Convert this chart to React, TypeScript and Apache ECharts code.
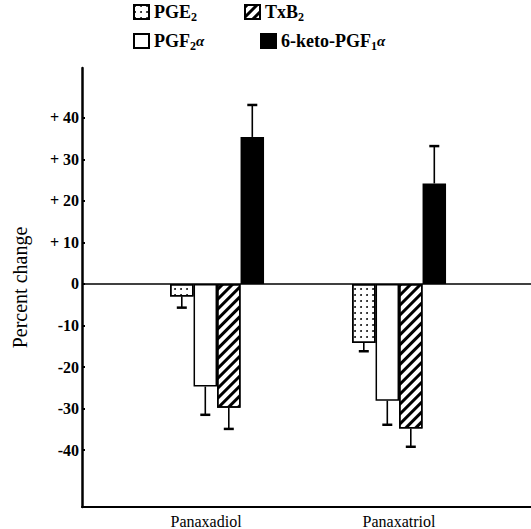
import React, { useEffect, useRef } from "react";
import * as echarts from "echarts";

const categories = ["Panaxadiol", "Panaxatriol"];
const seriesNames = ["PGE2", "PGF2α", "TxB2", "6-keto-PGF1α"];
const pge2 = [-3.0, -14.2];
const pge2Err = [2.7, 2.0];
const pgf2a = [-24.7, -28.1];
const pgf2aErr = [6.8, 5.8];
const txb2 = [-29.8, -34.8];
const txb2Err = [5.1, 4.4];
const keto = [35.4, 24.2];
const ketoErr = [7.7, 9.0];
const yTicks = [-40, -30, -20, -10, 0, 10, 20, 30, 40];

const FONT = "Liberation Serif";
const BAR_W = 23.5;

const values = [pge2, pgf2a, txb2, keto];
const errors = [pge2Err, pgf2aErr, txb2Err, ketoErr];

const richLegend = {
  b: { fontFamily: FONT, fontSize: 18, fontWeight: "bold", color: "#000", lineHeight: 22 },
  s: { fontFamily: FONT, fontSize: 12, fontWeight: "bold", color: "#000", lineHeight: 22, verticalAlign: "bottom" },
  g: { fontFamily: FONT, fontSize: 15, fontStyle: "italic", fontWeight: "bold", color: "#000", lineHeight: 22 },
};

const legendLabel: Record<string, string> = {
  "PGE2": "{b|PGE}{s|2}",
  "PGF2α": "{b|PGF}{s|2}{g|α}",
  "TxB2": "{b|TxB}{s|2}",
  "6-keto-PGF1α": "{b|6-keto-PGF}{s|1}{g|α}",
};

const dotDecal = {
  symbol: "circle",
  symbolSize: 0.9,
  color: "#000",
  dashArrayX: [2, 3.5],
  dashArrayY: [2, 3.5],
  rotation: 0,
};
const hatchDecal = {
  symbol: "rect",
  symbolSize: 1,
  color: "#000",
  dashArrayX: [1, 0],
  dashArrayY: [2.2, 4],
  rotation: -Math.PI / 4,
};

export default function App() {
  const ref = useRef<HTMLDivElement>(null);
  useEffect(() => {
    if (!ref.current) return;
    const chart = echarts.init(ref.current, null, { renderer: "svg" });

    const fills = ["#fff", "#fff", "#fff", "#000"];
    const decals: any[] = [dotDecal, null, hatchDecal, null];

    const barSeries = seriesNames.map((name, i) => ({
      name,
      type: "bar",
      barWidth: BAR_W,
      barGap: "0%",
      data: categories.map((_, c) => [c, values[i][c]]),
      itemStyle: {
        color: fills[i],
        borderColor: "#000",
        borderWidth: 1.5,
        ...(decals[i] ? { decal: decals[i] } : {}),
      },
      z: 2,
      ...(i === 0
        ? {
            markLine: {
              silent: true,
              symbol: ["none", "none"],
              label: { show: false },
              lineStyle: { color: "#000", width: 1.5, type: "solid" },
              data: [{ yAxis: 0 }],
              z: 1,
            },
          }
        : {}),
    }));

    const errSeries = {
      type: "custom",
      name: "err",
      z: 5,
      data: seriesNames.flatMap((_, i) =>
        categories.map((_, c) => [c, values[i][c], errors[i][c], i])
      ),
      encode: { x: 0, y: 1 },
      renderItem: (params: any, api: any) => {
        const x = api.value(0);
        const y = api.value(1);
        const e = api.value(2);
        const idx = api.value(3);
        const end = y + (y >= 0 ? e : -e);
        const p0 = api.coord([x, y]);
        const p1 = api.coord([x, end]);
        const off = (idx - 1.5) * BAR_W;
        const cx = p0[0] + off;
        return {
          type: "group",
          children: [
            {
              type: "line",
              shape: { x1: cx, y1: p0[1], x2: cx, y2: p1[1] },
              style: { stroke: "#000", lineWidth: 1.6 },
            },
            {
              type: "line",
              shape: { x1: cx - 5, y1: p1[1], x2: cx + 5, y2: p1[1] },
              style: { stroke: "#000", lineWidth: 2.5 },
            },
          ],
        };
      },
    };

    const legendPos = [
      { left: 133, top: 3 },
      { left: 133, top: 32 },
      { left: 244, top: 3 },
      { left: 260, top: 32 },
    ];

    chart.setOption({
      animation: false,
      backgroundColor: "#fff",
      legend: seriesNames.map((name, i) => ({
        data: [name],
        left: legendPos[i].left,
        top: legendPos[i].top,
        padding: 0,
        itemWidth: 15,
        itemHeight: 14,
        selectedMode: false,
        icon: "rect",
        formatter: (n: string) => legendLabel[n],
        textStyle: { rich: richLegend, fontFamily: FONT, fontSize: 18, color: "#000" },
      })),
      grid: { left: 82, right: 0, top: 68, bottom: 17, containLabel: false },
      xAxis: {
        type: "value",
        min: -0.742,
        max: 1.725,
        axisLine: { show: true, onZero: false, lineStyle: { color: "#000", width: 2 } },
        axisTick: { show: false },
        splitLine: { show: false },
        axisLabel: {
          customValues: [0, 1],
          formatter: (v: number) => (Math.round(v) === 0 ? "{l|" + categories[0] + "}" : "{r|" + categories[1] + "}"),
          fontFamily: FONT,
          fontSize: 16,
          color: "#000",
          margin: 6,
          rich: {
            l: { fontFamily: FONT, fontSize: 16, color: "#000", padding: [0, 22, 0, 0] },
            r: { fontFamily: FONT, fontSize: 16, color: "#000" },
          },
        },
      },
      yAxis: {
        type: "value",
        min: -53.7,
        max: 52,
        name: "Percent change",
        nameLocation: "middle",
        nameRotate: 90,
        nameGap: 52,
        nameTextStyle: { fontFamily: FONT, fontSize: 20, color: "#000" },
        axisLine: { show: true, onZero: false, lineStyle: { color: "#000", width: 2.5 } },
        axisTick: { show: true, inside: true, length: 3, customValues: yTicks, lineStyle: { color: "#000", width: 2 } },
        splitLine: { show: false },
        axisLabel: {
          customValues: yTicks,
          formatter: (v: number) => (v > 0 ? "+ " + v : String(v)),
          fontFamily: FONT,
          fontSize: 16,
          fontWeight: "bold",
          color: "#000",
          margin: 3,
        },
      },
      series: [...barSeries, errSeries],
    });

    return () => chart.dispose();
  }, []);

  return <div ref={ref} style={{ width: 531, height: 529, position: "absolute", left: 0, top: 0 }} />;
}
